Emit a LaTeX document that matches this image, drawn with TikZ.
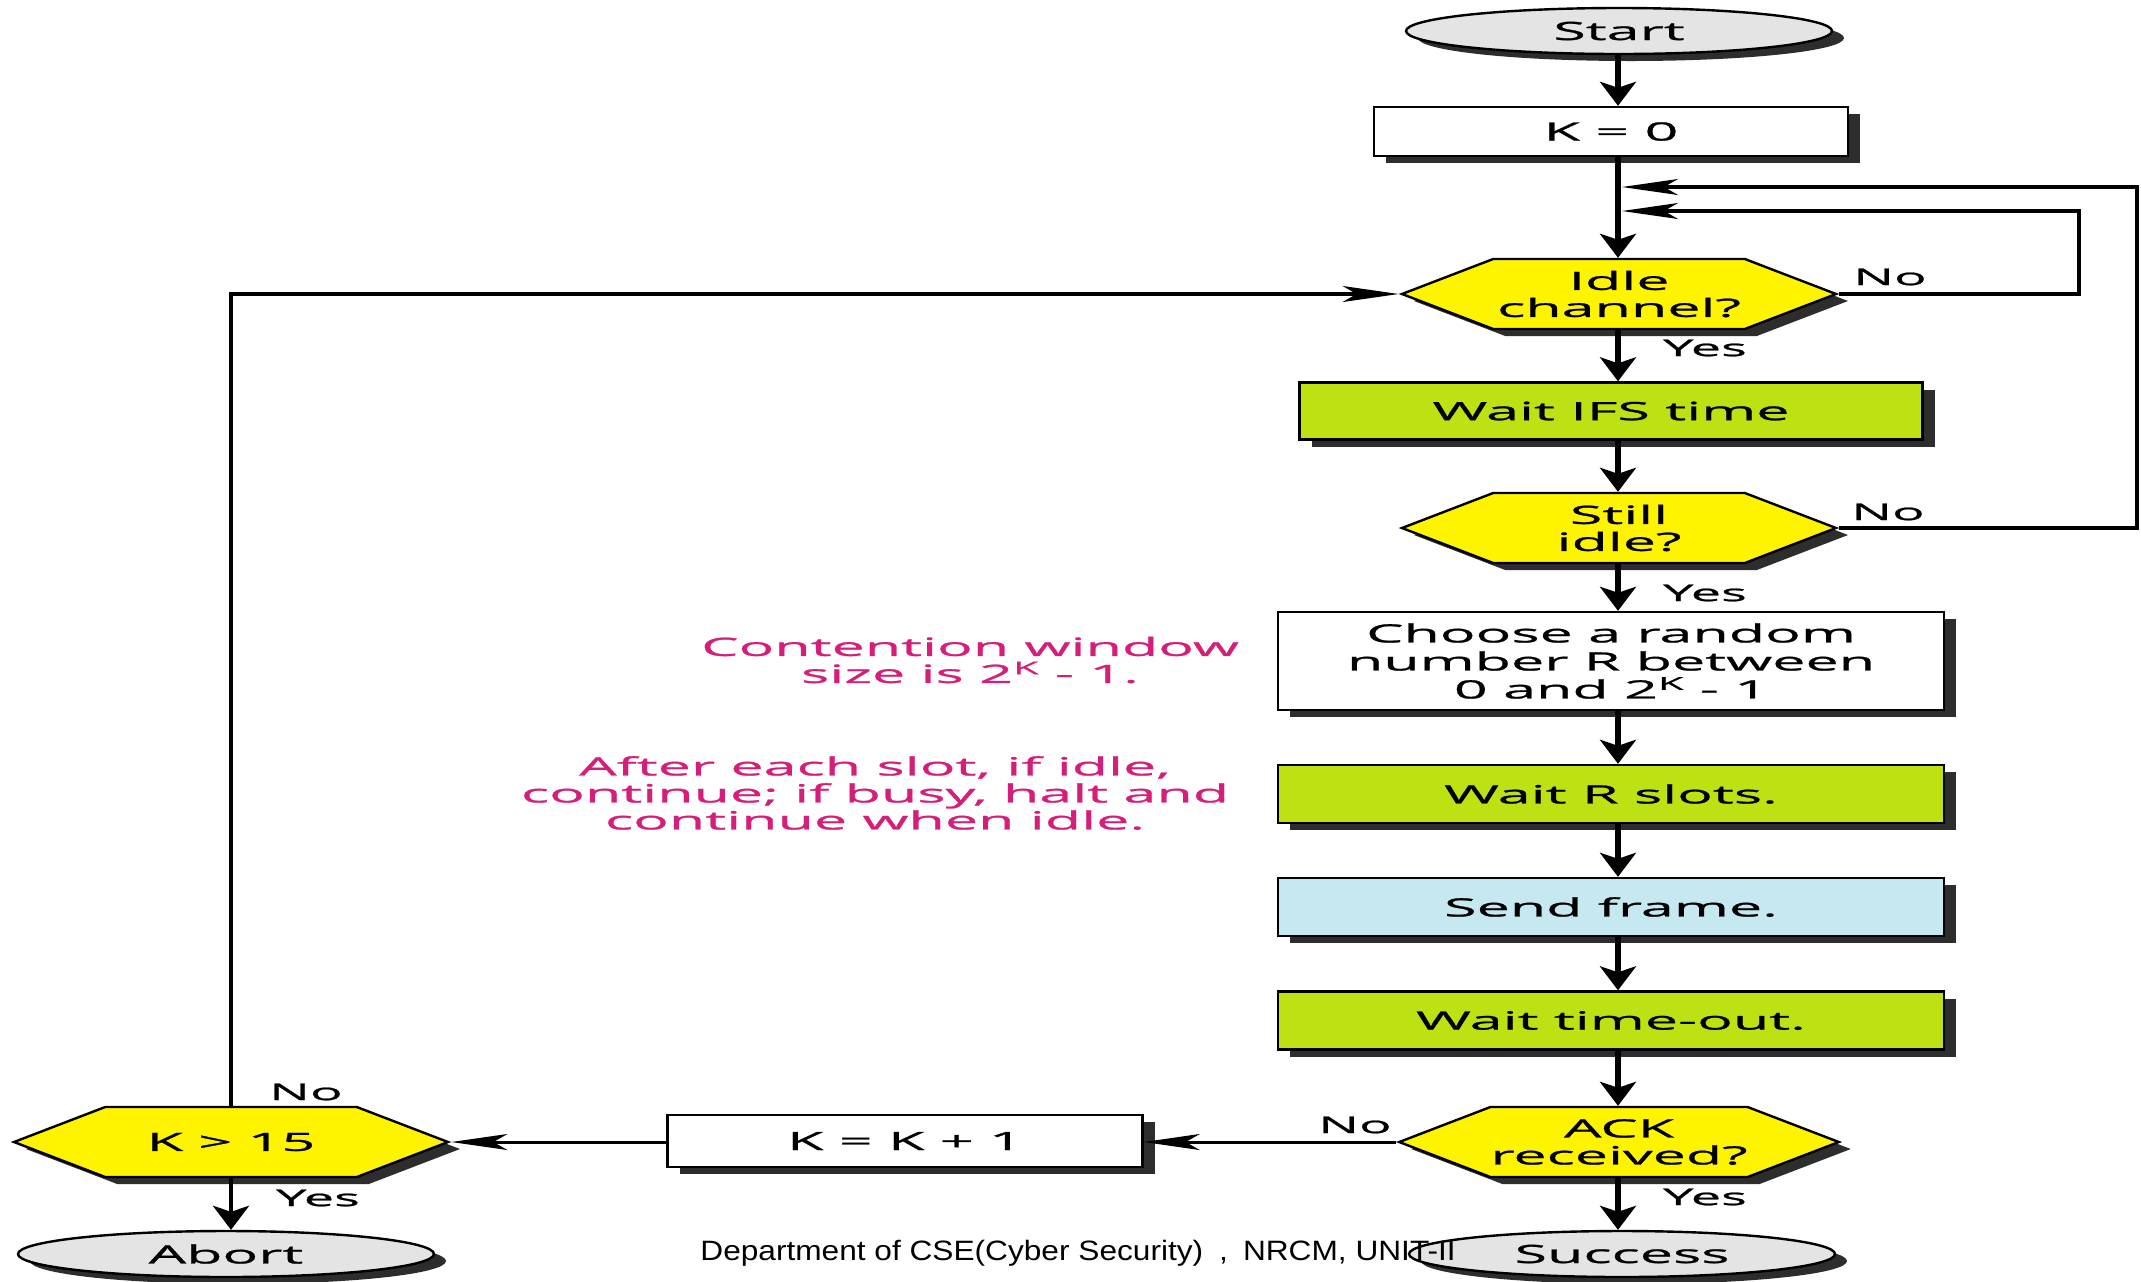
\documentclass[tikz,border=0pt]{standalone}
\usepackage{fontspec}
\setmainfont{Open Sans}[FakeStretch=2.35,FakeBold=1]
\newfontfamily\footfont{Liberation Sans}[FakeStretch=1.13]
\usetikzlibrary{arrows.meta,shapes.geometric,shapes.symbols,shadows,calc}
\definecolor{boxgreen}{RGB}{190,225,20}
\definecolor{hexyellow}{RGB}{255,244,0}
\definecolor{sendblue}{RGB}{197,232,241}
\definecolor{termgray}{RGB}{228,228,228}
\definecolor{notepink}{RGB}{212,30,122}
\definecolor{shadowgray}{RGB}{45,45,45}
\begin{document}
\begin{tikzpicture}[x=0.5pt,y=-0.5pt,
  every node/.style={font=\fontsize{12.6}{14}\selectfont, inner sep=0pt},
  shad/.style={drop shadow={shadow xshift=6pt,shadow yshift=-3.5pt,fill=shadowgray,opacity=1}},
  procbox/.style={rectangle, draw, line width=1.2pt, shad, align=center},
  hexbox/.style={signal, signal to=west and east, signal pointer angle=42, draw, line width=1.2pt,
    fill=hexyellow, shad, align=center, minimum width=217pt, minimum height=35pt,
    font=\fontsize{12.6}{13.5}\selectfont},
  term/.style={ellipse, draw, line width=1.2pt, fill=termgray, shad, minimum width=213pt, minimum height=23pt},
  lbl/.style={font=\fontsize{11.5}{13}\selectfont},
  note/.style={text=notepink, align=center, font=\fontsize{12.6}{13.5}\selectfont},
  varr/.style={line width=2.75pt, -{Stealth[length=12pt,width=18pt,inset=3pt]}},
  harr/.style={line width=1.5pt, -{Stealth[length=28pt,width=8pt,inset=7pt]}}
]
\fill[white] (0,0) rectangle (2141,1281);
\useasboundingbox (0,0) rectangle (2141,1281);

% nodes
\node[term] (start) at (1619,31) {Start};
\node[procbox, fill=white, minimum width=237pt, minimum height=24.5pt] (k0) at (1611,131.5) {K = 0};
\node[hexbox] (idle) at (1619,294) {Idle\\channel?};
\node[procbox, fill=boxgreen, minimum width=311.5pt, minimum height=28.5pt] (ifs) at (1611,411) {Wait IFS time};
\node[hexbox] (still) at (1619,528) {Still\\idle?};
\node[procbox, fill=white, minimum width=333pt, minimum height=49pt] (choose) at (1611,661) {Choose a random\\number R between\\0 and 2\textsuperscript{K} - 1};
\node[procbox, fill=boxgreen, minimum width=333pt, minimum height=29pt] (waitr) at (1611,794) {Wait R slots.};
\node[procbox, fill=sendblue, minimum width=333pt, minimum height=29pt] (send) at (1611,907) {Send frame.};
\node[procbox, fill=boxgreen, minimum width=333pt, minimum height=29pt] (tout) at (1611,1020.5) {Wait time-out.};
\node[hexbox] (ack) at (1619,1142) {ACK\\received?};
\node[term] (success) at (1622,1254) {Success};
\node[procbox, fill=white, minimum width=237.5pt, minimum height=26pt] (kk) at (905,1141) {K = K + 1};
\node[hexbox] (k15) at (231,1142) {K > 15};
\node[term, minimum width=208pt] (abort) at (226,1254) {Abort};

% notes
\node[note] (cw) at (970,660) {Contention window\\size is 2\textsuperscript{K} - 1.};
\node[note] (after) at (875,793) {After each slot, if idle,\\continue; if busy, halt and\\continue when idle.};

% helper coordinates
\coordinate (mx) at (1618,0);
\coordinate (mxr) at (1622,0);
\coordinate (r1) at (2079,0);
\coordinate (r2) at (2137,0);
\coordinate (l1) at (0,211);
\coordinate (l2) at (0,187);

% main column
\draw[varr] (start.south -| mx) -- (k0.north -| mx);
\draw[varr] (k0.south -| mx) -- (idle.north -| mx);
\draw[varr] (idle.south -| mx) -- (ifs.north -| mx);
\draw[varr] (ifs.south -| mx) -- (still.north -| mx);
\draw[varr] (still.south -| mx) -- (choose.north -| mx);
\draw[varr] (choose.south -| mx) -- (waitr.north -| mx);
\draw[varr] (waitr.south -| mx) -- (send.north -| mx);
\draw[varr] (send.south -| mx) -- (tout.north -| mx);
\draw[varr] (tout.south -| mx) -- (ack.north -| mx);
\draw[varr] (ack.south -| mx) -- (success.north -| mx);

% loops
\draw[harr, line width=1.6pt] (idle.east) -- (idle.east -| r1) -- (r1 |- l1) -- (mxr |- l1);
\draw[harr, line width=1.6pt] (still.east) -- (still.east -| r2) -- (r2 |- l2) -- (mxr |- l2);

% bottom row
\draw[harr] (ack.west) -- (ack.west -| kk.east);
\draw[harr] (kk.west |- k15.east) -- (k15.east);
\draw[harr, line width=1.6pt] (k15.north) -- (k15.north |- idle.west) -- (idle.west);
\draw[varr, line width=2.2pt] (k15.south) -- (abort.north -| k15.south);

% labels
\node[lbl] (noidle) at (1890,277) {No};
\node[lbl] (yesidle) at (1705,348) {Yes};
\node[lbl] (nostill) at (1888,512) {No};
\node[lbl] (yesstill) at (1705,593) {Yes};
\node[lbl] (noack) at (1355,1125) {No};
\node[lbl] (yesack) at (1705,1197) {Yes};
\node[lbl] (nok) at (306,1092) {No};
\node[lbl] (yesk) at (318,1198) {Yes};

% footer
\node[anchor=base west, font=\footfont\fontsize{14}{16}\selectfont] (foot) at (700,1260) {Department of CSE(Cyber Security)\hspace{8pt},\hspace{7.5pt}NRCM, UNIT-II};
\end{tikzpicture}
\end{document}
